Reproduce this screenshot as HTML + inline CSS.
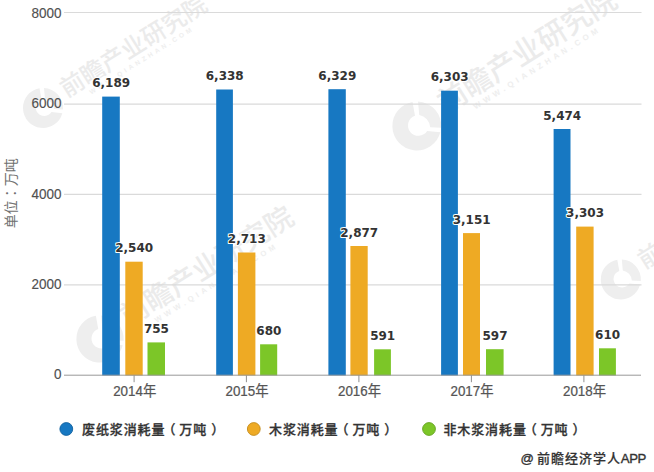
<!DOCTYPE html>
<html><head><meta charset="utf-8"><title>chart</title>
<style>
html,body{margin:0;padding:0;background:#fff;}
body{width:654px;height:472px;overflow:hidden;}
svg{display:block;}
.yl{font-family:"Liberation Sans","Noto Sans CJK SC",sans-serif;font-size:15px;fill:#505050;stroke:#505050;stroke-width:0.15px;}
.xl{font-family:"Liberation Sans","Noto Sans CJK SC",sans-serif;font-size:14.4px;fill:#555;stroke:#555;stroke-width:0.25px;}
.vl{font-family:"DejaVu Sans",sans-serif;font-weight:bold;font-size:12px;fill:#333;stroke:#fff;stroke-width:2px;paint-order:stroke;stroke-linejoin:round;}
.lg{font-family:"Liberation Sans","Noto Sans CJK SC",sans-serif;font-size:13px;letter-spacing:0.9px;font-weight:500;fill:#333;stroke:#333;stroke-width:0.3px;}
.yt{font-family:"Liberation Sans","Noto Sans CJK SC",sans-serif;font-size:14px;fill:#707070;}
.tc{font-family:"Noto Sans CJK TC",sans-serif;}
.ft{font-family:"Liberation Sans","Noto Sans CJK SC",sans-serif;font-size:13px;letter-spacing:1px;font-weight:500;fill:#333;stroke:#333;stroke-width:0.2px;}
.fa{font-weight:normal;font-size:13.2px;letter-spacing:-0.4px;stroke:#333;stroke-width:0.35px;}
.wmt{font-family:"Liberation Sans","Noto Sans CJK SC",sans-serif;font-size:24px;font-weight:500;fill:#ebebeb;}
.wms{font-family:"Liberation Sans",sans-serif;font-size:6.5px;font-weight:bold;letter-spacing:3.2px;fill:#eeeeee;}
</style></head><body>
<svg width="654" height="472" viewBox="0 0 654 472">
<g transform="translate(43,108) scale(1.0)"><path d="M -3.5 -19.7 A 20 20 0 1 0 19.3 5.2 L 8.5 4 A 8.5 8.5 0 1 1 -1.5 -8.5 Z" fill="#eeeeee"/><path d="M 1 -20 A 20 20 0 0 1 20 1.5 L 11 1 A 11 11 0 0 0 2 -9 Z" fill="#efefef"/></g><g transform="translate(43,108) rotate(-32) scale(1.0)"><text x="25.3" y="4.1" class="wmt">前瞻产业研究院</text><text x="48" y="14" class="wms">WWW.QIANZHAN.COM</text></g>
<g transform="translate(416.8,126) scale(1.22)"><path d="M -3.5 -19.7 A 20 20 0 1 0 19.3 5.2 L 8.5 4 A 8.5 8.5 0 1 1 -1.5 -8.5 Z" fill="#eeeeee"/><path d="M 1 -20 A 20 20 0 0 1 20 1.5 L 11 1 A 11 11 0 0 0 2 -9 Z" fill="#efefef"/></g><g transform="translate(416.8,126) rotate(-32) scale(1.22)"><text x="25.3" y="4.1" class="wmt">前瞻产业研究院</text><text x="48" y="14" class="wms">WWW.QIANZHAN.COM</text></g>
<g transform="translate(100,339) scale(1.18)"><path d="M -3.5 -19.7 A 20 20 0 1 0 19.3 5.2 L 8.5 4 A 8.5 8.5 0 1 1 -1.5 -8.5 Z" fill="#eeeeee"/><path d="M 1 -20 A 20 20 0 0 1 20 1.5 L 11 1 A 11 11 0 0 0 2 -9 Z" fill="#efefef"/></g><g transform="translate(100,339) rotate(-32) scale(1.18)"><text x="25.3" y="4.1" class="wmt">前瞻产业研究院</text><text x="48" y="14" class="wms">WWW.QIANZHAN.COM</text></g>
<g transform="translate(620.8,279.4) scale(1.0)"><path d="M -3.5 -19.7 A 20 20 0 1 0 19.3 5.2 L 8.5 4 A 8.5 8.5 0 1 1 -1.5 -8.5 Z" fill="#eeeeee"/><path d="M 1 -20 A 20 20 0 0 1 20 1.5 L 11 1 A 11 11 0 0 0 2 -9 Z" fill="#efefef"/></g><g transform="translate(620.8,279.4) rotate(-32) scale(1.0)"><text x="25.3" y="4.1" class="wmt">前瞻产业研究院</text><text x="48" y="14" class="wms">WWW.QIANZHAN.COM</text></g>
<line x1="64" y1="12.5" x2="641.5" y2="12.5" stroke="#dadada" stroke-width="1.2"/>
<line x1="64" y1="104.1" x2="641.5" y2="104.1" stroke="#dadada" stroke-width="1.2"/>
<line x1="64" y1="194.3" x2="641.5" y2="194.3" stroke="#dadada" stroke-width="1.2"/>
<line x1="64" y1="284.9" x2="641.5" y2="284.9" stroke="#dadada" stroke-width="1.2"/>
<rect x="102.2" y="96.6" width="17.6" height="278.9" fill="#1778c2"/>
<rect x="216.2" y="89.5" width="16.7" height="286.0" fill="#1778c2"/>
<rect x="328.4" y="89.2" width="17.4" height="286.3" fill="#1778c2"/>
<rect x="441.1" y="90.7" width="16.8" height="284.8" fill="#1778c2"/>
<rect x="553.6" y="129.0" width="16.9" height="246.5" fill="#1778c2"/>
<rect x="125.3" y="261.7" width="17.4" height="113.8" fill="#eeaa24"/>
<rect x="237.9" y="252.5" width="17.5" height="123.0" fill="#eeaa24"/>
<rect x="350.4" y="246.0" width="17.3" height="129.5" fill="#eeaa24"/>
<rect x="463.0" y="233.1" width="17.0" height="142.4" fill="#eeaa24"/>
<rect x="576.2" y="226.6" width="17.4" height="148.9" fill="#eeaa24"/>
<rect x="147.5" y="342.4" width="17.5" height="33.1" fill="#7cc628"/>
<rect x="260.1" y="344.3" width="17.1" height="31.2" fill="#7cc628"/>
<rect x="374.1" y="349.3" width="16.8" height="26.2" fill="#7cc628"/>
<rect x="486.0" y="349.2" width="17.6" height="26.3" fill="#7cc628"/>
<rect x="599.0" y="348.3" width="16.9" height="27.2" fill="#7cc628"/>
<line x1="64" y1="375.2" x2="641" y2="375.2" stroke="#999" stroke-width="1"/>
<line x1="134.1" y1="375.2" x2="134.1" y2="382.2" stroke="#909090" stroke-width="1"/>
<line x1="246.4" y1="375.2" x2="246.4" y2="382.2" stroke="#909090" stroke-width="1"/>
<line x1="358.9" y1="375.2" x2="358.9" y2="382.2" stroke="#909090" stroke-width="1"/>
<line x1="471.4" y1="375.2" x2="471.4" y2="382.2" stroke="#909090" stroke-width="1"/>
<line x1="583.9" y1="375.2" x2="583.9" y2="382.2" stroke="#909090" stroke-width="1"/>
<text transform="translate(61.5,18.0) scale(0.9,1)" class="yl" text-anchor="end">8000</text>
<text transform="translate(61.5,107.9) scale(0.9,1)" class="yl" text-anchor="end">6000</text>
<text transform="translate(61.5,198.7) scale(0.9,1)" class="yl" text-anchor="end">4000</text>
<text transform="translate(61.5,288.9) scale(0.9,1)" class="yl" text-anchor="end">2000</text>
<text transform="translate(61.5,379.4) scale(0.9,1)" class="yl" text-anchor="end">0</text>
<text transform="translate(134.70,396.3) scale(0.93,1)" class="xl" text-anchor="middle">2014年</text>
<text transform="translate(247.00,396.3) scale(0.93,1)" class="xl" text-anchor="middle">2015年</text>
<text transform="translate(359.50,396.3) scale(0.93,1)" class="xl" text-anchor="middle">2016年</text>
<text transform="translate(472.00,396.3) scale(0.93,1)" class="xl" text-anchor="middle">2017年</text>
<text transform="translate(584.50,396.3) scale(0.93,1)" class="xl" text-anchor="middle">2018年</text>
<text x="111.20" y="87.10" class="vl" text-anchor="middle">6,189</text>
<text x="224.75" y="80.00" class="vl" text-anchor="middle">6,338</text>
<text x="337.30" y="79.70" class="vl" text-anchor="middle">6,329</text>
<text x="449.70" y="81.20" class="vl" text-anchor="middle">6,303</text>
<text x="562.25" y="119.50" class="vl" text-anchor="middle">5,474</text>
<text x="134.20" y="252.20" class="vl" text-anchor="middle">2,540</text>
<text x="246.85" y="243.00" class="vl" text-anchor="middle">2,713</text>
<text x="359.25" y="236.50" class="vl" text-anchor="middle">2,877</text>
<text x="471.70" y="223.60" class="vl" text-anchor="middle">3,151</text>
<text x="585.10" y="217.10" class="vl" text-anchor="middle">3,303</text>
<text x="156.45" y="332.90" class="vl" text-anchor="middle">755</text>
<text x="268.85" y="334.80" class="vl" text-anchor="middle">680</text>
<text x="382.70" y="339.80" class="vl" text-anchor="middle">591</text>
<text x="495.00" y="339.70" class="vl" text-anchor="middle">597</text>
<text x="607.65" y="338.80" class="vl" text-anchor="middle">610</text>
<circle cx="66.3" cy="429" r="6.4" fill="#1778c2" stroke="#12629f" stroke-width="0.9"/>
<text x="82" y="433.8" class="lg">废纸浆消耗量<tspan dx="-3">（</tspan><tspan dx="3">万吨</tspan><tspan dx="4">）</tspan></text>
<circle cx="253.8" cy="429" r="6.4" fill="#eeaa24" stroke="#c38b1d" stroke-width="0.9"/>
<text x="269" y="433.8" class="lg">木浆消耗量<tspan dx="-3">（</tspan><tspan dx="3">万吨</tspan><tspan dx="4">）</tspan></text>
<circle cx="429" cy="429" r="6.4" fill="#7cc628" stroke="#65a220" stroke-width="0.9"/>
<text x="443.4" y="433.8" class="lg">非木浆消耗量<tspan dx="-3">（</tspan><tspan dx="3">万吨</tspan><tspan dx="4">）</tspan></text>
<text transform="translate(16.3,193.3) rotate(-90)" class="yt" text-anchor="middle">单位<tspan class="tc">：</tspan>万吨</text>
<text x="520.6" y="463.4" class="ft"><tspan class="fa">@</tspan><tspan x="537">前瞻经济学人</tspan><tspan class="fa" x="620.8">APP</tspan></text>
</svg>
</body></html>
